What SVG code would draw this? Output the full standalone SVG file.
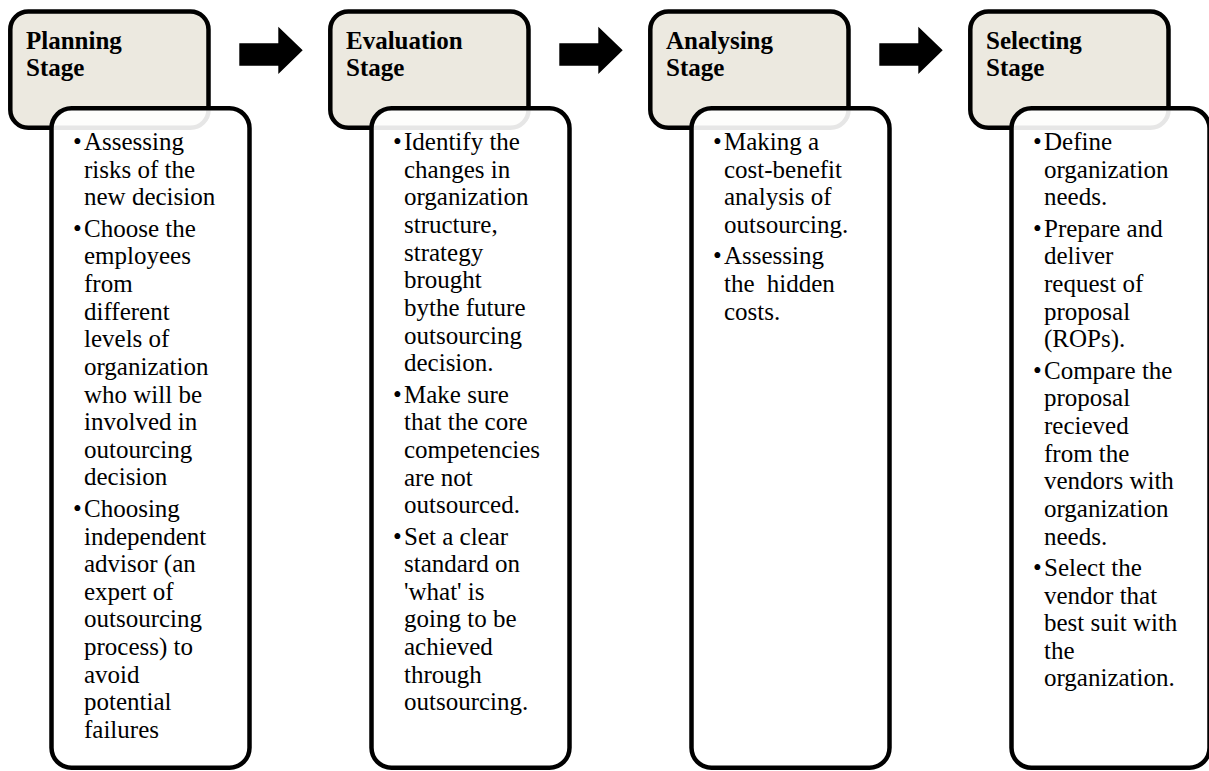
<svg xmlns="http://www.w3.org/2000/svg" width="1209" height="771" viewBox="0 0 1209 771">
  <style>
    .head { fill: #ECE9E0; stroke: #000; stroke-width: 4.5; }
    .body { fill: #FFFFFF; fill-opacity: 0.9; stroke: #000; stroke-width: 4.5; }
    .title { font-family: "Liberation Serif", "Times New Roman", serif; font-weight: bold; font-size: 25px; fill: #000; }
    .item { font-family: "Liberation Serif", "Times New Roman", serif; font-size: 25px; fill: #000; }
    .arrow { fill: #000; }
  </style>
  <defs>
    <rect id="headBox" x="10.3" y="11.5" width="198.2" height="116.3" rx="18" ry="18"/>
    <rect id="bodyBox" x="51.5" y="108.3" width="198" height="659.4" rx="20" ry="20"/>
    <polygon id="stepArrow" points="239.3,43.3 278.3,43.3 278.3,26.7 302.7,50.3 278.3,74 278.3,65.7 239.3,65.7"/>
  </defs>

  <!-- flow arrows between stages -->
  <g id="connectors" class="arrow">
    <use href="#stepArrow"/>
    <use href="#stepArrow" transform="translate(320,0)"/>
    <use href="#stepArrow" transform="translate(640,0)"/>
  </g>

  <!-- Stage 1 -->
  <g id="planning">
    <use href="#headBox" class="head"/>
    <text class="title" x="26" y="49.3">Planning<tspan x="26" dy="26.7">Stage</tspan></text>
    <use href="#bodyBox" class="body"/>
    <text class="item" x="73" y="150">•</text>
    <text class="item" x="84" y="150">Assessing<tspan x="84" dy="27.65">risks of the</tspan><tspan x="84" dy="27.65">new decision</tspan></text>
    <text class="item" x="73" y="236.65">•</text>
    <text class="item" x="84" y="236.65">Choose the<tspan x="84" dy="27.65">employees</tspan><tspan x="84" dy="27.65">from</tspan><tspan x="84" dy="27.65">different</tspan><tspan x="84" dy="27.65">levels of</tspan><tspan x="84" dy="27.65">organization</tspan><tspan x="84" dy="27.65">who will be</tspan><tspan x="84" dy="27.65">involved in</tspan><tspan x="84" dy="27.65">outourcing</tspan><tspan x="84" dy="27.65">decision</tspan></text>
    <text class="item" x="73" y="516.85">•</text>
    <text class="item" x="84" y="516.85">Choosing<tspan x="84" dy="27.65">independent</tspan><tspan x="84" dy="27.65">advisor (an</tspan><tspan x="84" dy="27.65">expert of</tspan><tspan x="84" dy="27.65">outsourcing</tspan><tspan x="84" dy="27.65">process) to</tspan><tspan x="84" dy="27.65">avoid</tspan><tspan x="84" dy="27.65">potential</tspan><tspan x="84" dy="27.65">failures</tspan></text>
  </g>

  <!-- Stage 2 -->
  <g id="evaluation" transform="translate(320,0)">
    <use href="#headBox" class="head"/>
    <text class="title" x="26" y="49.3">Evaluation<tspan x="26" dy="26.7">Stage</tspan></text>
    <use href="#bodyBox" class="body"/>
    <text class="item" x="73" y="150">•</text>
    <text class="item" x="84" y="150">Identify the<tspan x="84" dy="27.65">changes in</tspan><tspan x="84" dy="27.65">organization</tspan><tspan x="84" dy="27.65">structure,</tspan><tspan x="84" dy="27.65">strategy</tspan><tspan x="84" dy="27.65">brought</tspan><tspan x="84" dy="27.65">bythe future</tspan><tspan x="84" dy="27.65">outsourcing</tspan><tspan x="84" dy="27.65">decision.</tspan></text>
    <text class="item" x="73" y="402.55">•</text>
    <text class="item" x="84" y="402.55">Make sure<tspan x="84" dy="27.65">that the core</tspan><tspan x="84" dy="27.65">competencies</tspan><tspan x="84" dy="27.65">are not</tspan><tspan x="84" dy="27.65">outsourced.</tspan></text>
    <text class="item" x="73" y="544.5">•</text>
    <text class="item" x="84" y="544.5">Set a clear<tspan x="84" dy="27.65">standard on</tspan><tspan x="84" dy="27.65">'what' is</tspan><tspan x="84" dy="27.65">going to be</tspan><tspan x="84" dy="27.65">achieved</tspan><tspan x="84" dy="27.65">through</tspan><tspan x="84" dy="27.65">outsourcing.</tspan></text>
  </g>

  <!-- Stage 3 -->
  <g id="analysing" transform="translate(640,0)">
    <use href="#headBox" class="head"/>
    <text class="title" x="26" y="49.3">Analysing<tspan x="26" dy="26.7">Stage</tspan></text>
    <use href="#bodyBox" class="body"/>
    <text class="item" x="73" y="150">•</text>
    <text class="item" x="84" y="150">Making a<tspan x="84" dy="27.65">cost-benefit</tspan><tspan x="84" dy="27.65">analysis of</tspan><tspan x="84" dy="27.65">outsourcing.</tspan></text>
    <text class="item" x="73" y="264.3">•</text>
    <text class="item" x="84" y="264.3">Assessing<tspan x="84" dy="27.65" word-spacing="6">the hidden</tspan><tspan x="84" dy="27.65">costs.</tspan></text>
  </g>

  <!-- Stage 4 -->
  <g id="selecting" transform="translate(960,0)">
    <use href="#headBox" class="head" transform="translate(0,0)"/>
    <text class="title" x="26" y="49.3">Selecting<tspan x="26" dy="26.7">Stage</tspan></text>
    <use href="#bodyBox" class="body"/>
    <text class="item" x="73" y="150">•</text>
    <text class="item" x="84" y="150">Define<tspan x="84" dy="27.65">organization</tspan><tspan x="84" dy="27.65">needs.</tspan></text>
    <text class="item" x="73" y="236.65">•</text>
    <text class="item" x="84" y="236.65">Prepare and<tspan x="84" dy="27.65">deliver</tspan><tspan x="84" dy="27.65">request of</tspan><tspan x="84" dy="27.65">proposal</tspan><tspan x="84" dy="27.65">(ROPs).</tspan></text>
    <text class="item" x="73" y="378.6">•</text>
    <text class="item" x="84" y="378.6">Compare the<tspan x="84" dy="27.65">proposal</tspan><tspan x="84" dy="27.65">recieved</tspan><tspan x="84" dy="27.65">from the</tspan><tspan x="84" dy="27.65">vendors with</tspan><tspan x="84" dy="27.65">organization</tspan><tspan x="84" dy="27.65">needs.</tspan></text>
    <text class="item" x="73" y="575.85">•</text>
    <text class="item" x="84" y="575.85">Select the<tspan x="84" dy="27.65">vendor that</tspan><tspan x="84" dy="27.65">best suit with</tspan><tspan x="84" dy="27.65">the</tspan><tspan x="84" dy="27.65">organization.</tspan></text>
  </g>
</svg>
